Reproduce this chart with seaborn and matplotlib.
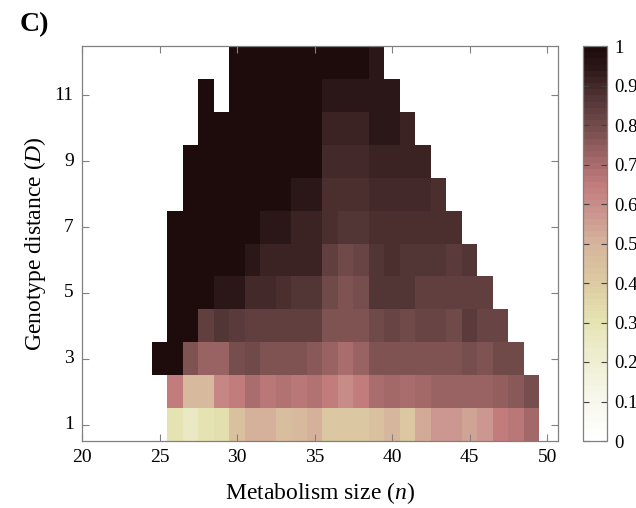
import matplotlib
matplotlib.use('Agg')
import matplotlib.pyplot as plt
from matplotlib.colors import LinearSegmentedColormap
import numpy as np
import pandas as pd
import seaborn as sns

nan = np.nan

# metabolism size n (columns) and genotype distance D (rows)
n_sizes = list(range(25, 50))
d_dist = list(range(1, 13))

# one list per D, values for n = 25..49 (nan = no data)
d1 = [nan, .30, .25, .30, .32, .45, .50, .50, .46, .48, .50, .42, .42, .42, .44, .49, .42, .52, .57, .57, .54, .57, .65, .67, .71]
d2 = [nan, .65, .47, .47, .62, .65, .69, .67, .68, .67, .68, .65, .60, .65, .70, .71, .70, .71, .72, .72, .72, .73, .74, .76, .79]
d3 = [1, 1, .77, .72, .72, .79, .80, .77, .77, .77, .76, .72, .70, .72, .77, .77, .77, .77, .77, .77, .79, .78, .80, .80, nan]
d4 = [nan, 1, 1, .83, .87, .85, .83, .83, .83, .83, .83, .77, .77, .77, .80, .82, .80, .82, .82, .80, .85, .82, .82, nan, nan]
d5 = [nan, 1, 1, 1, .95, .95, .90, .90, .88, .87, .87, .80, .78, .79, .86, .86, .86, .84, .84, .84, .84, .84, nan, nan, nan]
d6 = [nan, 1, 1, 1, 1, 1, .95, .91, .91, .91, .91, .83, .80, .82, .87, .89, .87, .87, .87, .85, .87, nan, nan, nan, nan]
d7 = [nan, 1, 1, 1, 1, 1, 1, .95, .95, .92, .92, .88, .86, .86, .89, .89, .89, .88, .88, .88, nan, nan, nan, nan, nan]
d8 = [nan, nan, 1, 1, 1, 1, 1, 1, 1, .95, .95, .89, .89, .89, .90, .90, .90, .90, .88, nan, nan, nan, nan, nan, nan]
d9 = [nan, nan, 1, 1, 1, 1, 1, 1, 1, 1, 1, .90, .90, .90, .91, .91, .91, .91, nan, nan, nan, nan, nan, nan, nan]
d10 = [nan, nan, nan, 1, 1, 1, 1, 1, 1, 1, 1, .92, .92, .92, .95, .95, .92, nan, nan, nan, nan, nan, nan, nan, nan]
d11 = [nan, nan, nan, 1, nan, 1, 1, 1, 1, 1, 1, .95, .95, .95, .95, .95, nan, nan, nan, nan, nan, nan, nan, nan, nan]
d12 = [nan, nan, nan, nan, nan, 1, 1, 1, 1, 1, 1, 1, 1, 1, .95, nan, nan, nan, nan, nan, nan, nan, nan, nan, nan]

x_ticks = [20, 25, 30, 35, 40, 45, 50]
y_ticks = [1, 3, 5, 7, 9, 11]
cbar_ticks = [0, 0.1, 0.2, 0.3, 0.4, 0.5, 0.6, 0.7, 0.8, 0.9, 1]
cbar_labels = ['0', '0.1', '0.2', '0.3', '0.4', '0.5', '0.6', '0.7', '0.8', '0.9', '1']

rows = [d1, d2, d3, d4, d5, d6, d7, d8, d9, d10, d11, d12]
df = pd.DataFrame(rows, index=d_dist, columns=n_sizes)
df.sort_index(ascending=False, inplace=True)   # D=12 on top

# white -> pale yellow -> tan -> pink -> dark brown
cmap = LinearSegmentedColormap.from_list('pinkish', [
    (0.0, '#ffffff'), (0.1, '#f7f7ec'), (0.2, '#efeed2'), (0.25, '#ebe9c6'),
    (0.3, '#e6e3b2'), (0.4, '#dccaa2'), (0.5, '#d6b49c'), (0.57, '#cc9890'),
    (0.65, '#c27c7c'), (0.72, '#a06666'), (0.8, '#744c4c'), (0.87, '#543636'),
    (0.95, '#2c1818'), (1.0, '#1e0b0b')], N=64)

plt.rcParams['font.family'] = ['Liberation Serif', 'DejaVu Serif']
plt.rcParams['mathtext.fontset'] = 'custom'
plt.rcParams['mathtext.rm'] = 'Liberation Serif'
plt.rcParams['mathtext.it'] = 'Liberation Serif:italic'

fig = plt.figure(figsize=(6.36, 5.08), dpi=100)
ax = fig.add_axes([82 / 636, 1 - 441 / 508, 476 / 636, 395 / 508])
cax = fig.add_axes([583 / 636, 1 - 441 / 508, 24 / 636, 395 / 508])

sns.heatmap(df, cmap=cmap, vmin=0, vmax=1, ax=ax, cbar_ax=cax)

# heatmap cell for size n is centred at n - 24.5
off = n_sizes[0] - 0.5
ax.set_xlim(20 - off, 50.7 - off)
ax.set_ylim(len(d_dist), 0)
ax.set_xticks([t - off for t in x_ticks])
ax.set_xticklabels([str(t) for t in x_ticks], rotation=0, fontsize=14)
ax.set_yticks([len(d_dist) + 0.5 - t for t in y_ticks])
ax.set_yticklabels([str(t) for t in y_ticks], rotation=0, fontsize=14)
ax.tick_params(direction='in', top=True, right=True, length=5, width=0.8,
               color='#808080', pad=6)
for s in ax.spines.values():
    s.set_visible(True)
    s.set_color('#808080')
    s.set_linewidth(0.9)
ax.set_xlabel('Metabolism size ($n$)', fontsize=17, labelpad=10)
ax.set_ylabel('Genotype distance ($D$)', fontsize=17, labelpad=5)

cb = ax.collections[0].colorbar
cb.set_ticks(cbar_ticks)
cb.set_ticklabels(cbar_labels, fontsize=13.5)
cb.outline.set_linewidth(0.9)
cb.outline.set_edgecolor('#808080')
cax.tick_params(direction='in', left=True, right=True, length=4, width=0.8,
                color='#404040', pad=5)

fig.text(20 / 636, 1 - 25 / 508, 'C)', fontsize=20, fontweight='bold', va='center', ha='left')

plt.savefig('out.png', dpi=100)
